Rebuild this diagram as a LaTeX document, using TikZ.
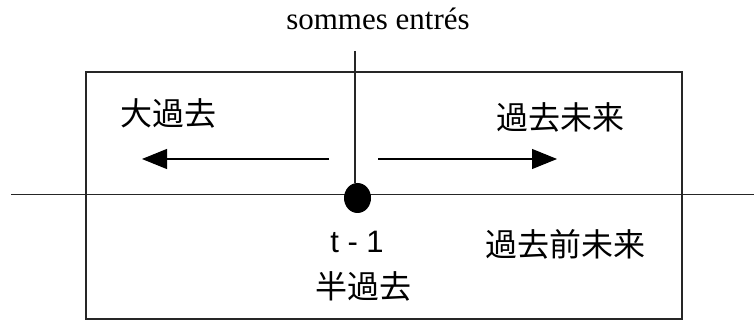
\documentclass[tikz,border=0pt]{standalone}
\usepackage{fontspec}
\setmainfont{Liberation Serif}
\newfontfamily\cjk{Noto Sans CJK JP}
\newfontfamily\lsans{Liberation Sans}
\usetikzlibrary{arrows.meta,shapes.geometric}
\begin{document}
\begin{tikzpicture}[x=1pt,y=-1pt,
  ln/.style={line width=1.1pt,draw=black!85},
  arr/.style={line width=1.1pt,-{Triangle[length=25pt,width=20pt]}},
  jp/.style={inner sep=0pt,font=\cjk\fontsize{32}{38}\selectfont},
  lat/.style={inner sep=0pt,font=\lsans\fontsize{31}{37}\selectfont},
  ser/.style={inner sep=0pt,font=\rmfamily\fontsize{31}{37}\selectfont}]
\useasboundingbox (0,0) rectangle (754,320);
% frame
\draw[ln] (86,72) rectangle (682,319);
% time axis
\coordinate (axL) at (11,194.5);
\coordinate (axR) at (754,194.5);
\draw[ln] (axL) -- (axR);
% dot
\node[ellipse,fill=black,inner sep=0pt,minimum width=27pt,minimum height=30pt] (dot) at (357.5,198) {};
% vertical line
\coordinate (vtop) at (355,51);
\draw[ln] (vtop) -- (dot.north -| vtop);
% arrows
\coordinate (la1) at (329,159);
\coordinate (la2) at (142,159);
\coordinate (ra1) at (378,159);
\coordinate (ra2) at (557,159);
\draw[arr] (la1) -- (la2);
\draw[arr] (ra1) -- (ra2);
% texts
\node[ser,anchor=base] (title) at (378,30) {sommes entrés};
\node[jp] (daikako) at (168,113) {大過去};
\node[jp] (kakomirai) at (560,117) {過去未来};
\node[lat] (tm1) at (357,242) {t - 1};
\node[jp] (hankako) at (363,286) {半過去};
\node[jp] (kakozen) at (565,244) {過去前未来};
\end{tikzpicture}
\end{document}
